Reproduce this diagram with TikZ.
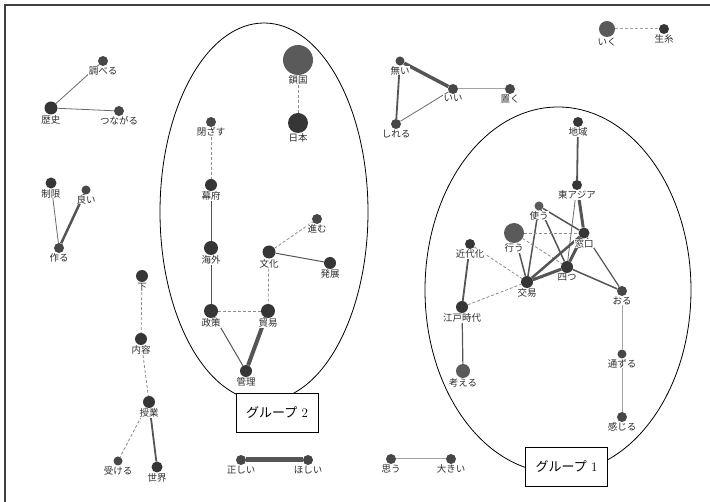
\documentclass[tikz,border=0pt]{standalone}
\usepackage{fontspec}
\newfontfamily\jp{Noto Sans CJK JP}
\usetikzlibrary{shapes.geometric,backgrounds}

\definecolor{vdark}{HTML}{363636}
\definecolor{vmid}{HTML}{474747}
\definecolor{vlight}{HTML}{5A5A5A}
\definecolor{edgecol}{HTML}{555555}
\definecolor{thincol}{HTML}{6A6A6A}
\definecolor{dashcol}{HTML}{8C8C8C}
\definecolor{lightcol}{HTML}{A2A2A2}
\definecolor{labcol}{HTML}{2E2E2E}

\tikzset{
  lbl/.style={font=\jp\fontsize{9.5}{9.5}\selectfont, text=labcol, inner sep=0.4pt, fill=white},
  vtx/.style={circle, inner sep=0pt, minimum size=#1, fill=vmid},
  dk/.style={fill=vdark},
  lt/.style={fill=vlight},
  w/.style={draw=edgecol, line width=#1},
  thin edge/.style={draw=thincol, line width=0.8pt},
  faint/.style={draw=lightcol, line width=1pt},
  dash edge/.style={draw=dashcol, line width=0.8pt, dash pattern=on 3pt off 2pt},
  grp/.style={draw=black, ellipse, line width=0.8pt, inner sep=0pt},
  grpbox/.style={draw=black, fill=white, line width=0.8pt, minimum width=82pt,
                 minimum height=39pt, inner sep=0pt, font=\jp\fontsize{13}{13}\selectfont},
  every label/.style={lbl, label distance=0pt}
}

\begin{document}
\begin{tikzpicture}[x=1pt, y=-1pt]
\useasboundingbox (0,0) rectangle (710,502);
% outer frame: its right and bottom sides run past the page edge
\draw[draw=black!75, line width=1.2pt] (5,5) rectangle (716,508);

% group outlines
\node[grp, minimum width=208pt, minimum height=378pt] (g2) at (264,212) {};
\node[grp, minimum width=266pt, minimum height=366pt] (g1) at (558,290) {};

% isolated clusters on the left
\node[vtx=10pt, label=below:調べる] (shiraberu) at (103,61) {};
\node[vtx=13pt, dk, label=below:歴史] (rekishi) at (51,108) {};
\node[vtx=10pt, label=below:つながる] (tsunagaru) at (119,111) {};
\node[vtx=11pt, dk, label=below:制限] (seigen) at (51,183) {};
\node[vtx=9pt, label=below:良い] (yoi) at (86,190) {};
\node[vtx=10pt, label=below:作る] (tsukuru) at (59,248) {};
\node[vtx=12pt, dk, label=below:下] (shita) at (142,276) {};
\node[vtx=12pt, dk, label=below:内容] (naiyou) at (141,339) {};
\node[vtx=12pt, dk, label=below:授業] (jugyou) at (149,402) {};
\node[vtx=9pt, label=below:受ける] (ukeru) at (118,461) {};
\node[vtx=11pt, dk, label=below:世界] (sekai) at (157,467) {};

% group 2
\node[vtx=30pt, lt, label=below:鎖国] (sakoku) at (298,60) {};
\node[vtx=20pt, dk, label=below:日本] (nihon) at (298,123) {};
\node[vtx=10pt, label=below:閉ざす] (tozasu) at (211,122) {};
\node[vtx=12pt, dk, label=below:幕府] (bakufu) at (211,185) {};
\node[vtx=14pt, dk, label=below:海外] (kaigai) at (211,248) {};
\node[vtx=10pt, label=below:進む] (susumu) at (317,219) {};
\node[vtx=13pt, dk, label=below:文化] (bunka) at (269,252) {};
\node[vtx=12pt, dk, label=below:発展] (hatten) at (330,263) {};
\node[vtx=14pt, dk, label=below:政策] (seisaku) at (211,311) {};
\node[vtx=14pt, dk, label=below:貿易] (boueki) at (268,311) {};
\node[vtx=12pt, dk, label=below:管理] (kanri) at (246,371) {};
\node[grpbox] (box2) at (277,412.5) {グループ\,\,\fontspec{Latin Modern Roman}2};

% bottom pairs
\node[vtx=10pt, label=below:正しい] (tadashii) at (241,460) {};
\node[vtx=10pt, label=below:ほしい] (hoshii) at (308,460) {};
\node[vtx=10pt, label=below:思う] (omou) at (391,459) {};
\node[vtx=10pt, label=below:大きい] (ookii) at (451,459) {};

% upper middle triangle
\node[vtx=9pt, label=below:無い] (nai) at (400,61) {};
\node[vtx=10pt, label=below:いい] (ii) at (453,89) {};
\node[vtx=10pt, label=below:置く] (oku) at (510,89) {};
\node[vtx=10pt, label=below:しれる] (shireru) at (396,124) {};

% top right pair
\node[vtx=16pt, lt, label=below:いく] (iku) at (607,29) {};
\node[vtx=10pt, dk, label=below:生糸] (kiito) at (664,29) {};

% group 1
\node[vtx=10pt, dk, label=below:地域] (chiiki) at (578,122) {};
\node[vtx=10pt, dk, label=below:東アジア] (higashiasia) at (577,185) {};
\node[vtx=9pt, lt, label=below:使う] (tsukau) at (539,206) {};
\node[vtx=11pt, dk, label=below:窓口] (madoguchi) at (584,233) {};
\node[vtx=20pt, lt, label=below:行う] (okonau) at (514,233) {};
\node[vtx=10pt, dk, label=below:近代化] (kindaika) at (470,244) {};
\node[vtx=12pt, dk, label=below:四つ] (yottsu) at (567,267) {};
\node[vtx=12pt, dk, label=below:交易] (koueki) at (527,282) {};
\node[vtx=12pt, dk, label=below:江戸時代] (edo) at (462,307) {};
\node[vtx=14pt, lt, label=below:考える] (kangaeru) at (463,371) {};
\node[vtx=10pt, label=below:おる] (oru) at (622,291) {};
\node[vtx=9pt, label=below:通ずる] (tsuuzuru) at (622,354) {};
\node[vtx=10pt, label=below:感じる] (kanjiru) at (622,417) {};
\node[grpbox] (box1) at (566.5,466.5) {グループ\,\,\fontspec{Latin Modern Roman}1};

% connectors, kept beneath the vertices and their labels
\begin{pgfonlayer}{background}
\draw[thin edge] (shiraberu) -- (rekishi);
\draw[thin edge] (rekishi) -- (tsunagaru);
\draw[thin edge] (seigen) -- (tsukuru);
\draw[w=2.5pt] (yoi) -- (tsukuru);
\draw[dash edge] (shita) -- (naiyou);
\draw[dash edge] (naiyou) -- (jugyou);
\draw[dash edge] (jugyou) -- (ukeru);
\draw[w=1.8pt] (jugyou) -- (sekai);

\draw[dash edge] (sakoku) -- (nihon);
\draw[dash edge] (tozasu) -- (bakufu);
\draw[w=1pt] (bakufu) -- (kaigai);
\draw[w=1pt] (kaigai) -- (seisaku);
\draw[dash edge] (bunka) -- (susumu);
\draw[w=1pt] (bunka) -- (hatten);
\draw[dash edge] (bunka) -- (boueki);
\draw[dash edge] (seisaku) -- (boueki);
\draw[w=1pt] (seisaku) -- (kanri);
\draw[w=4pt] (boueki) -- (kanri);

\draw[w=5pt] (tadashii) -- (hoshii);
\draw[faint] (omou) -- (ookii);

\draw[w=3.5pt] (nai) -- (ii);
\draw[w=1.8pt] (nai) -- (shireru);
\draw[thin edge] (shireru) -- (ii);
\draw[faint] (ii) -- (oku);

\draw[dash edge, draw=lightcol, line width=1pt] (iku) -- (kiito);

\draw[w=1.8pt] (chiiki) -- (higashiasia);
\draw[w=3pt] (higashiasia) -- (madoguchi);
\draw[thin edge] (higashiasia) -- (yottsu);
\draw[w=1.5pt] (tsukau) -- (madoguchi);
\draw[w=1.5pt] (tsukau) -- (koueki);
\draw[w=1.5pt] (tsukau) -- (yottsu);
\draw[dash edge] (okonau) -- (madoguchi);
\draw[dash edge] (okonau) -- (yottsu);
\draw[w=1.5pt] (okonau) -- (koueki);
\draw[w=3pt] (madoguchi) -- (yottsu);
\draw[w=2.5pt] (madoguchi) -- (koueki);
\draw[w=3pt] (yottsu) -- (koueki);
\draw[w=1.2pt] (madoguchi) -- (oru);
\draw[w=1.5pt] (yottsu) -- (oru);
\draw[dash edge] (kindaika) -- (koueki);
\draw[dash edge] (edo) -- (koueki);
\draw[w=1.8pt] (kindaika) -- (edo);
\draw[w=1.2pt] (edo) -- (kangaeru);
\draw[faint] (oru) -- (tsuuzuru);
\draw[faint] (tsuuzuru) -- (kanjiru);
\end{pgfonlayer}
\end{tikzpicture}
\end{document}
